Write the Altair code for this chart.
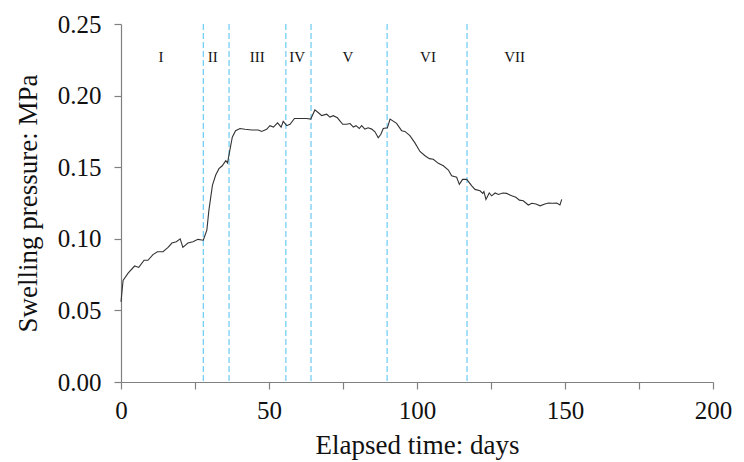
import altair as alt
import pandas as pd

days = [0.0, 0.7, 2.4, 4.6, 6.0, 7.8, 9.1, 10.8, 12.3, 14.2, 15.9, 17.2, 18.7, 20.0, 20.9,
        22.6, 24.3, 26.0, 27.8, 29.0, 29.7, 30.9, 32.0, 33.1, 34.2, 35.4, 36.0, 36.7, 37.6,
        38.7, 40.2, 41.9, 44.2, 46.4, 47.5, 49.2, 50.3, 51.5, 52.9, 54.1, 54.8, 56.0, 57.1,
        58.6, 60.5, 62.7, 64.1, 65.5, 66.7, 67.8, 69.5, 70.6, 71.7, 73.1, 74.9, 76.2, 77.4,
        78.5, 79.4, 80.5, 81.3, 82.4, 83.5, 84.7, 85.8, 86.9, 87.8, 88.6, 90.0, 90.9, 93.1,
        94.8, 95.9, 97.6, 99.3, 101.0, 102.7, 104.2, 105.5, 107.2, 108.9, 110.6, 111.7, 113.4,
        114.3, 115.4, 116.8, 118.5, 119.6, 121.3, 122.2, 122.6, 123.3, 124.4, 125.2, 126.4,
        127.5, 129.0, 130.3, 132.0, 133.4, 134.6, 135.9, 137.6, 138.8, 140.2, 141.6, 143.2,
        144.4, 145.8, 147.2, 148.3, 148.9]
pressure = [0.056, 0.071, 0.076, 0.081, 0.080, 0.085, 0.085, 0.089, 0.091, 0.091, 0.094, 0.097,
            0.098, 0.100, 0.094, 0.097, 0.098, 0.0996, 0.099, 0.106, 0.120, 0.1375, 0.1445,
            0.149, 0.151, 0.1545, 0.153, 0.161, 0.171, 0.1755, 0.177, 0.1765, 0.176, 0.176,
            0.175, 0.1765, 0.179, 0.178, 0.181, 0.178, 0.182, 0.179, 0.180, 0.184, 0.184, 0.184,
            0.1836, 0.190, 0.188, 0.186, 0.187, 0.185, 0.186, 0.1845, 0.180, 0.180, 0.1805,
            0.178, 0.179, 0.177, 0.179, 0.1766, 0.1775, 0.1766, 0.1747, 0.1705, 0.173, 0.177,
            0.1775, 0.1836, 0.1806, 0.1755, 0.175, 0.172, 0.167, 0.161, 0.158, 0.156, 0.1555,
            0.1527, 0.151, 0.148, 0.144, 0.143, 0.138, 0.1415, 0.1415, 0.137, 0.1345, 0.1335,
            0.1317, 0.133, 0.1275, 0.132, 0.130, 0.132, 0.131, 0.132, 0.1317, 0.130, 0.129,
            0.127, 0.1266, 0.1236, 0.1248, 0.1243, 0.123, 0.1243, 0.125, 0.1248, 0.125, 0.1236,
            0.1275]

stage_bounds = [27.8, 36.5, 55.7, 64.2, 89.9, 116.9]
stage_names = ["I", "II", "III", "IV", "V", "VI", "VII"]
stage_label_x = [13.5, 31.0, 46.0, 59.5, 76.7, 103.7, 133.0]
stage_label_y = 0.227

x_ticks = [0, 25, 50, 75, 100, 125, 150, 175, 200]
y_ticks = [0.0, 0.05, 0.10, 0.15, 0.20, 0.25]

curve = pd.DataFrame({"days": days, "pressure": pressure})
bounds = pd.DataFrame({"days": stage_bounds})
labels = pd.DataFrame({"days": stage_label_x, "y": [stage_label_y] * len(stage_names),
                       "name": stage_names})

x_scale = alt.Scale(domain=[0, 200], nice=False, zero=False)
y_scale = alt.Scale(domain=[0, 0.25], nice=False)

x_axis = alt.Axis(values=x_ticks, title="Elapsed time: days",
                  labelExpr="datum.value % 50 == 0 ? datum.label : ''",
                  labelFlush=False, labelOverlap=False)
y_axis = alt.Axis(values=y_ticks, format=".2f", title="Swelling pressure: MPa")

line = alt.Chart(curve).mark_line(color="#333333", strokeWidth=1.1).encode(
    x=alt.X("days:Q", scale=x_scale, axis=x_axis),
    y=alt.Y("pressure:Q", scale=y_scale, axis=y_axis),
)

rules = alt.Chart(bounds).mark_rule(color="#5cc6f2", strokeWidth=1.1,
                                    strokeDash=[6, 3]).encode(
    x=alt.X("days:Q", scale=x_scale),
)

text = alt.Chart(labels).mark_text(font="Liberation Serif", fontSize=15,
                                   color="#111111").encode(
    x=alt.X("days:Q", scale=x_scale),
    y=alt.Y("y:Q", scale=y_scale),
    text="name:N",
)

chart = alt.layer(rules, line, text).properties(
    width=592, height=358,
    autosize=alt.AutoSizeParams(type="none"),
    padding={"left": 121, "top": 24, "right": 31, "bottom": 80},
    background="white",
).configure_view(stroke=None).configure_axis(
    grid=False,
    domainColor="#808080",
    tickColor="#808080",
    domainWidth=1.2,
    tickWidth=1.2,
    tickSize=7,
    labelFont="Liberation Serif",
    labelFontSize=25,
    labelColor="#111111",
    titleFont="Liberation Serif",
    titleFontSize=27,
    titleFontWeight="normal",
    titleColor="#111111",
).configure_axisX(
    labelPadding=9, titlePadding=9,
).configure_axisY(
    labelPadding=13, titlePadding=15, tickSize=7,
)

chart.save("out.html", embed_options={"renderer": "svg", "actions": False})
